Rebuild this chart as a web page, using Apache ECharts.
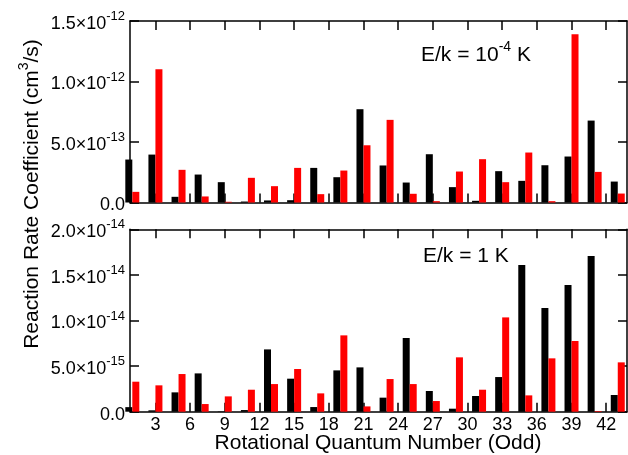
<!DOCTYPE html>
<html>
<head>
<meta charset="utf-8">
<script src="https://cdn.jsdelivr.net/npm/echarts@6/dist/echarts.min.js"></script>
<style>
html,body{margin:0;padding:0;background:#fff;}
#c{width:628px;height:455px;}
</style>
</head>
<body>
<div id="c"></div>
<script>
// Rotational quantum numbers (odd)
const J = [1,3,5,7,9,11,13,15,17,19,21,23,25,27,29,31,33,35,37,39,41,43];
const xTickValues = [3,6,9,12,15,18,21,24,27,30,33,36,39,42];

// Top panel, E/k = 1e-4 K, values in units of 1e-13 cm^3/s
const topScale = 1e-13;
const topBlack = [3.55,3.96,0.47,2.31,1.68,0.08,0.17,0.19,2.86,2.09,7.71,3.06,1.65,3.99,1.27,0.14,2.59,1.79,3.08,3.80,6.77,1.73];
const topRed   = [0.88,11.01,2.70,0.50,0.06,2.04,1.35,2.86,0.69,2.64,4.73,6.83,0.72,0.11,2.56,3.58,1.68,4.13,0.11,13.90,2.53,0.74];
const topYMax = 15, topYStep = 5;

// Bottom panel, E/k = 1 K, values in units of 1e-15 cm^3/s
const botScale = 1e-15;
const botBlack = [0.50,0.15,2.12,4.20,0.04,0.18,6.83,3.62,0.51,4.53,4.86,1.54,8.08,2.27,0.33,1.72,3.80,16.08,11.37,13.89,17.07,1.83];
const botRed   = [3.29,2.89,4.13,0.84,1.68,2.41,3.03,4.68,2.01,8.37,0.58,3.58,3.03,1.17,5.96,2.41,10.34,1.79,5.85,7.75,0.07,5.41];
const botYMax = 20, botYStep = 5;

const FONT = '"Liberation Sans", Arial, Helvetica, sans-serif';

function sciLabel(scale){
  return function(v){
    if (Math.abs(v) < 1e-9) return '{b|0.0}';
    const r = v * scale;
    const e = Math.floor(Math.log10(r) + 1e-9);
    const m = r / Math.pow(10, e);
    return '{b|' + m.toFixed(1) + '×10}{s|' + e + '}';
  };
}
const yRich = {
  b: {fontSize: 18, lineHeight: 22, padding: [6,0,0,0], color: '#000', fontFamily: FONT},
  s: {fontSize: 13, lineHeight: 15, verticalAlign: 'top', color: '#000', fontFamily: FONT}
};

const lineStyle = {color: '#000', width: 1.5};
function xAx(grid, pos, labels){
  return {
    gridIndex: grid, type: 'value', position: pos, min: 0.8, max: 43.8,
    axisLine: {show: true, onZero: false, lineStyle: lineStyle},
    axisTick: {show: true, inside: true, length: 9, customValues: xTickValues, lineStyle: lineStyle},
    axisLabel: {show: labels, customValues: xTickValues, fontSize: 18, color: '#000', fontFamily: FONT, margin: 4},
    splitLine: {show: false}
  };
}
function yAx(grid, pos, max, step, scale, labels){
  return {
    gridIndex: grid, type: 'value', position: pos, min: 0, max: max, interval: step,
    axisLine: {show: true, onZero: false, lineStyle: lineStyle},
    axisTick: {show: true, inside: true, length: 9, lineStyle: lineStyle},
    axisLabel: {show: labels, formatter: sciLabel(scale), rich: yRich, margin: 5, align: 'right'},
    splitLine: {show: false}
  };
}
function barSeries(xi, yi, vals, color){
  return {
    type: 'bar', xAxisIndex: xi, yAxisIndex: yi, barWidth: 7, barGap: '0%',
    itemStyle: {color: color}, clip: true,
    data: J.map((j, i) => [j, vals[i]])
  };
}

const chart = echarts.init(document.getElementById('c'), null, {renderer: 'canvas'});
chart.setOption({
  animation: false,
  backgroundColor: '#fff',
  grid: [
    {left: 130, top: 21, width: 497, height: 181.5},
    {left: 130, top: 229.3, width: 497, height: 182.4}
  ],
  xAxis: [xAx(0,'bottom',false), xAx(0,'top',false), xAx(1,'bottom',true), xAx(1,'top',false)],
  yAxis: [
    yAx(0,'left',topYMax,topYStep,topScale,true), yAx(0,'right',topYMax,topYStep,topScale,false),
    yAx(1,'left',botYMax,botYStep,botScale,true), yAx(1,'right',botYMax,botYStep,botScale,false)
  ],
  series: [
    barSeries(0,0,topBlack,'#000000'), barSeries(0,0,topRed,'#ff0000'),
    barSeries(2,2,botBlack,'#000000'), barSeries(2,2,botRed,'#ff0000')
  ],
  graphic: [
    {type: 'text', x: 29, y: 194, rotation: Math.PI/2, z: 10,
     style: {text: '{a|Reaction Rate Coefficient (cm}{s|3}{a|/s)}', align: 'center', verticalAlign: 'middle',
       rich: {a: {fontSize: 21, lineHeight: 24, padding: [6,0,0,0], fontFamily: FONT, color: '#000'},
              s: {fontSize: 14, lineHeight: 16, verticalAlign: 'top', fontFamily: FONT, color: '#000'}}}},
    {type: 'text', x: 378, y: 443, z: 10,
     style: {text: 'Rotational Quantum Number (Odd)', align: 'center', verticalAlign: 'middle', fontSize: 21, fontFamily: FONT, fill: '#000'}},
    {type: 'text', x: 421, y: 52.5, z: 10,
     style: {text: '{a|E/k = 10}{s|-4}{a| K}', align: 'left', verticalAlign: 'middle',
       rich: {a: {fontSize: 21, lineHeight: 24, padding: [6,0,0,0], fontFamily: FONT, color: '#000'},
              s: {fontSize: 14, lineHeight: 16, verticalAlign: 'top', fontFamily: FONT, color: '#000'}}}},
    {type: 'text', x: 423, y: 256, z: 10,
     style: {text: 'E/k = 1 K', align: 'left', verticalAlign: 'middle', fontSize: 21, fontFamily: FONT, fill: '#000'}}
  ]
});
</script>
</body>
</html>
